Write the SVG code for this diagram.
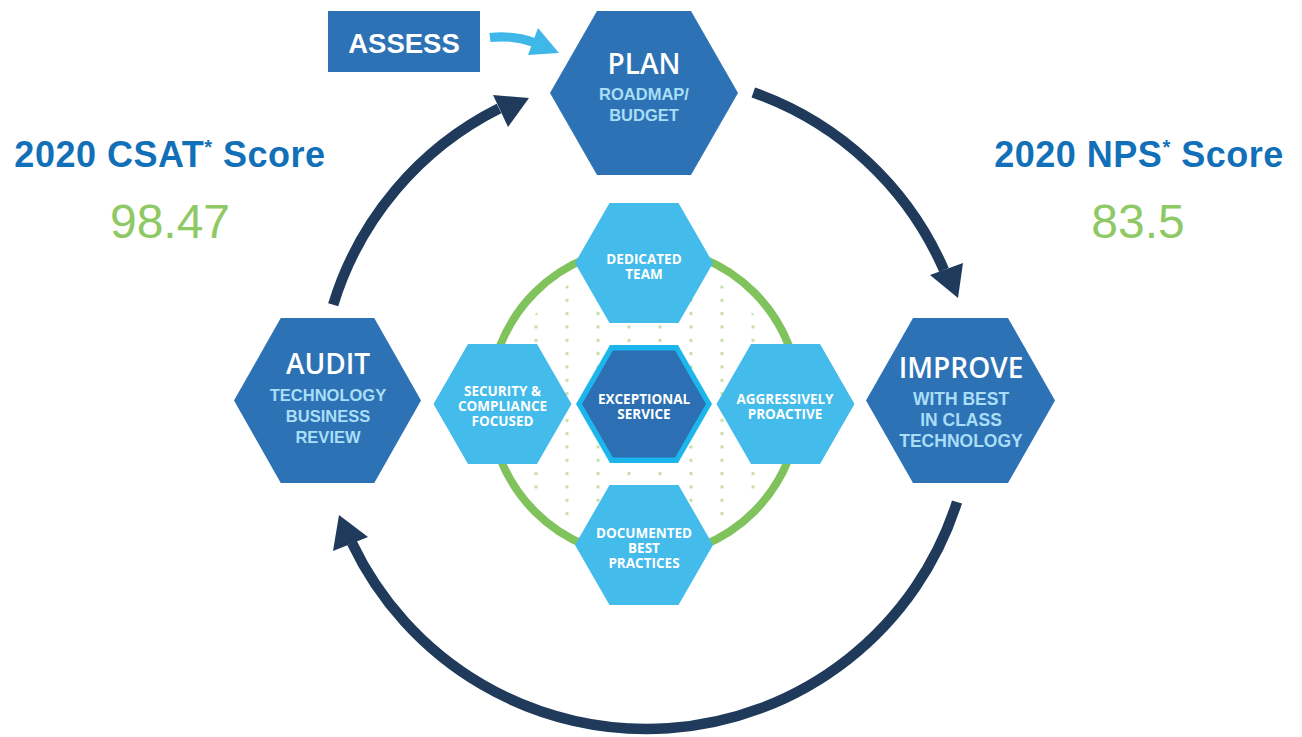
<svg xmlns="http://www.w3.org/2000/svg" width="1302" height="737" viewBox="0 0 1302 737">
<defs>
<pattern id="dots" patternUnits="userSpaceOnUse" x="534.5" y="285.5" width="31" height="13.333">
<rect x="0" y="0" width="3" height="3" fill="#c4e0a2"/>
</pattern>
<style>
.big{fill:#2e72b6}
.small{fill:#43bbeb}
.arc{fill:none;stroke:#1f3a5b;stroke-width:10.5}
.head{fill:#1f3a5b}
.title{font-family:"Open Sans","Liberation Sans",sans-serif;font-weight:600;font-size:28px;fill:#ffffff;text-anchor:middle}
.sub{font-family:"Liberation Sans",Arial,sans-serif;font-weight:700;fill:#a9def7;text-anchor:middle}
.hx{font-family:"Open Sans","Liberation Sans",sans-serif;font-weight:700;font-size:13.5px;fill:#ffffff;text-anchor:middle}
.score{font-family:"Liberation Sans",Arial,sans-serif;font-weight:700;font-size:36px;letter-spacing:0.5px;fill:#1170b8;text-anchor:middle}
.num{font-family:"Liberation Sans",Arial,sans-serif;font-size:48px;fill:#8ec965;text-anchor:middle}
</style>
</defs>
<rect width="1302" height="737" fill="#ffffff"/>

<g id="connectors">
<path class="arc" d="M753.3,92.5 A326,326 0 0 1 944,270"/>
<polygon class="head" points="930,275 963,263 958,298"/>
<path class="arc" d="M957,502 A326,326 0 0 1 352,543"/>
<polygon class="head" points="333,551 368,537 339,515"/>
<path class="arc" d="M333.2,304.7 A326,326 0 0 1 499,108.5"/>
<polygon class="head" points="493,95 508,127 529,98"/>
<path d="M490,37.5 Q513,35 534,42.5" fill="none" stroke="#40b7e9" stroke-width="9"/>
<polygon points="538,28 559,53 528,55" fill="#40b7e9"/>
</g>

<g id="ring">
<circle cx="644.5" cy="402" r="140" fill="url(#dots)"/>
<circle cx="644.5" cy="402" r="155" fill="none" stroke="#80c25c" stroke-width="8"/>
</g>

<g id="assess">
<rect x="328" y="11" width="152" height="61" fill="#2e72b6"/>
<text x="404" y="53" font-family="'Liberation Sans',Arial,sans-serif" font-weight="700" font-size="27.5" fill="#ffffff" text-anchor="middle">ASSESS</text>
</g>

<g id="plan">
<polygon class="big" points="550,93 597,11 691,11 738,93 691,175 597,175"/>
<text class="title" x="644" y="74">PLAN</text>
<text class="sub" font-size="16.5" x="644" y="100">ROADMAP/</text>
<text class="sub" font-size="16.5" x="644" y="121">BUDGET</text>
</g>

<g id="audit">
<polygon class="big" points="234,400.5 280.75,318 374.25,318 421,400.5 374.25,483 280.75,483"/>
<text class="title" x="328" y="374">AUDIT</text>
<text class="sub" font-size="16.5" x="328" y="401">TECHNOLOGY</text>
<text class="sub" font-size="16.5" x="328" y="422">BUSINESS</text>
<text class="sub" font-size="16.5" x="328" y="443">REVIEW</text>
</g>

<g id="improve">
<polygon class="big" points="866,400.5 913,318 1008,318 1055,400.5 1008,483 913,483"/>
<text class="title" x="961" y="378">IMPROVE</text>
<text class="sub" font-size="17.5" x="961" y="405">WITH BEST</text>
<text class="sub" font-size="17.5" x="961" y="426">IN CLASS</text>
<text class="sub" font-size="17.5" x="961" y="447">TECHNOLOGY</text>
</g>

<g id="dedicated-team">
<polygon class="small" points="575,263 609.5,203 678.5,203 713,263 678.5,323 609.5,323"/>
<text class="hx" x="644" y="264">DEDICATED</text>
<text class="hx" x="644" y="279">TEAM</text>
</g>

<g id="security">
<polygon class="small" points="433.5,404 468,344 537,344 571.5,404 537,464 468,464"/>
<text class="hx" x="502.5" y="396">SECURITY &amp;</text>
<text class="hx" x="502.5" y="411">COMPLIANCE</text>
<text class="hx" x="502.5" y="426">FOCUSED</text>
</g>

<g id="aggressively">
<polygon class="small" points="716.5,404 751,344 820,344 854.5,404 820,464 751,464"/>
<text class="hx" x="785" y="404">AGGRESSIVELY</text>
<text class="hx" x="785" y="419">PROACTIVE</text>
</g>

<g id="documented">
<polygon class="small" points="575,545 609.5,485 678.5,485 713,545 678.5,605 609.5,605"/>
<text class="hx" x="644" y="538">DOCUMENTED</text>
<text class="hx" x="644" y="553">BEST</text>
<text class="hx" x="644" y="568">PRACTICES</text>
</g>

<g id="exceptional">
<polygon points="576,404 610,345 678,345 712,404 678,463 610,463" fill="#1cb5ec"/>
<polygon points="582,404 613,350.5 675,350.5 706,404 675,457.5 613,457.5" fill="#2d6fb3"/>
<text class="hx" x="644" y="404">EXCEPTIONAL</text>
<text class="hx" x="644" y="419">SERVICE</text>
</g>

<g id="csat">
<text class="score" x="170" y="167">2020 CSAT<tspan font-size="20" dy="-13">*</tspan><tspan dy="13"> Score</tspan></text>
<text class="num" x="170" y="238">98.47</text>
</g>

<g id="nps">
<text class="score" x="1139" y="167">2020 NPS<tspan font-size="20" dy="-13">*</tspan><tspan dy="13"> Score</tspan></text>
<text class="num" x="1138" y="238">83.5</text>
</g>
</svg>
